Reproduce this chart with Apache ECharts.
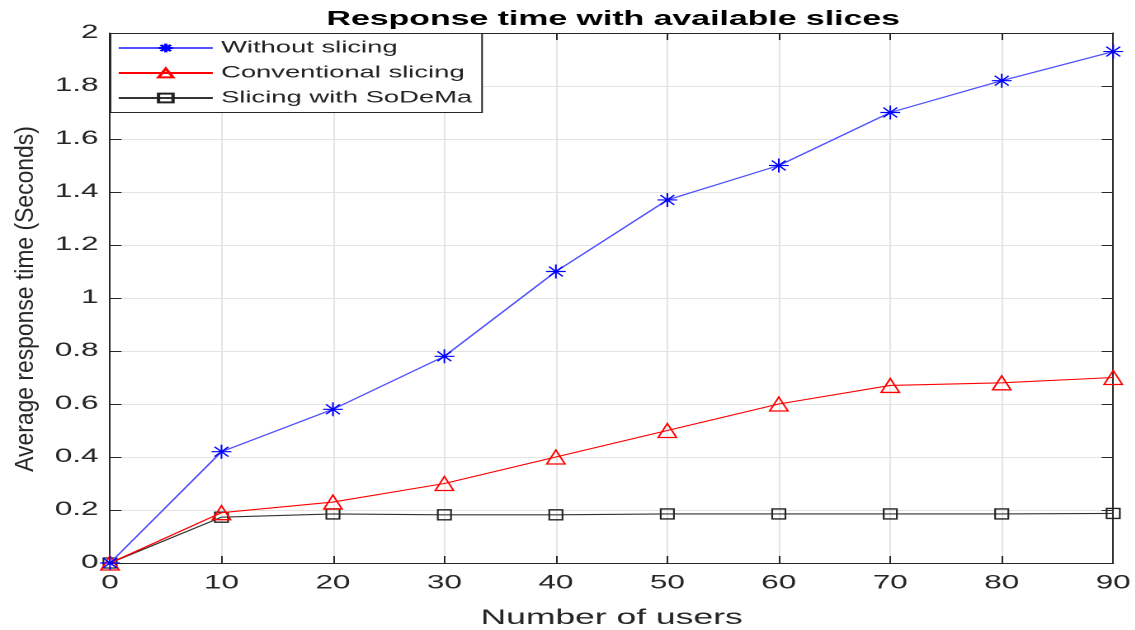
<!DOCTYPE html>
<html><head><meta charset="utf-8">
<script src="https://cdn.jsdelivr.net/npm/echarts@6/dist/echarts.min.js"></script>
<style>
html,body{margin:0;padding:0;background:#fff;overflow:hidden}
#wrap{width:1135px;height:630px;position:relative;overflow:hidden}
#c{width:688px;height:630px;transform:scaleX(1.65);transform-origin:0 0}
</style>
</head><body><div id="wrap"><div id="c"></div></div>
<script>
const users = [0, 10, 20, 30, 40, 50, 60, 70, 80, 90];
const withoutSlicing = [0, 0.42, 0.58, 0.78, 1.10, 1.37, 1.50, 1.70, 1.82, 1.93];
const conventionalSlicing = [0, 0.19, 0.23, 0.30, 0.40, 0.50, 0.60, 0.67, 0.68, 0.70];
const sodemaSlicing = [0, 0.173, 0.185, 0.182, 0.182, 0.185, 0.185, 0.185, 0.185, 0.187];
const seriesNames = ['Without slicing', 'Conventional slicing', 'Slicing with SoDeMa'];
const yTitle = 'Average response time (Seconds)';

const S = 1.65; // horizontal stretch of the original figure
const pair = (ys) => users.map((x, i) => [x, ys[i]]);
const star = 'path://M0,-10L0,10M-10,0L10,0M-7,-7L7,7M-7,7L7,-7';
const font = 'Liberation Sans, Arial, sans-serif';
const ink = '#262626';
const chart = echarts.init(document.getElementById('c'), null, {devicePixelRatio: 2});
const axisLine = {show: true, onZero: false, lineStyle: {color: ink, width: 1}};
const tick = {inside: true, length: 7, lineStyle: {color: ink}};
chart.setOption({
  animation: false,
  title: {text: 'Response time with available slices', left: 605 / S, textAlign: 'center', top: 4,
    textStyle: {fontFamily: font, fontWeight: 'bold', fontSize: 20.5, color: '#000'}},
  grid: {left: 110 / S, right: 22 / S, top: 33, bottom: 67, containLabel: false, outerBoundsMode: 'none'},
  legend: {
    orient: 'vertical', left: 110.5 / S, top: 33.5, itemWidth: 57, itemHeight: 11, itemGap: 8,
    padding: [6, 6, 6, 4], backgroundColor: '#fff', borderColor: ink, borderWidth: 1,
    textStyle: {fontFamily: font, fontSize: 16.6, color: '#222'},
    data: seriesNames
  },
  graphic: [{
    type: 'text', x: 26 / S, y: 299, rotation: Math.PI / 2, scaleY: 1.15 / S, z: 10,
    style: {text: yTitle, font: '22.9px ' + font, fill: ink, textAlign: 'center', textVerticalAlign: 'middle'}
  }],
  xAxis: [{
    type: 'value', min: 0, max: 90, interval: 10,
    name: 'Number of users', nameLocation: 'middle', nameGap: 44,
    nameTextStyle: {fontFamily: font, fontSize: 21.5, color: ink},
    axisLine: axisLine, axisTick: tick,
    axisLabel: {fontFamily: font, fontSize: 19, color: ink, margin: 11},
    splitLine: {show: true, lineStyle: {color: '#e4e4e4'}}
  }, {
    type: 'value', position: 'top', min: 0, max: 90, interval: 10,
    axisLine: axisLine, axisTick: tick,
    axisLabel: {show: false}, splitLine: {show: false}
  }],
  yAxis: [{
    type: 'value', min: 0, max: 2, interval: 0.2,
    axisLine: axisLine, axisTick: tick,
    axisLabel: {fontFamily: font, fontSize: 19, color: ink, margin: 7,
      formatter: v => String(Math.round(v * 10) / 10)},
    splitLine: {show: true, lineStyle: {color: '#e4e4e4'}}
  }, {
    type: 'value', position: 'right', min: 0, max: 2, interval: 0.2,
    axisLine: axisLine, axisTick: tick,
    axisLabel: {show: false}, splitLine: {show: false}
  }],
  series: [{
    name: seriesNames[0], type: 'line', data: pair(withoutSlicing),
    symbol: star, symbolSize: [12, 14], showAllSymbol: true,
    lineStyle: {color: '#5050ff', width: 1.2},
    itemStyle: {color: '#0000ff', borderColor: '#0000ff', borderWidth: 1.1}, z: 4
  }, {
    name: seriesNames[1], type: 'line', data: pair(conventionalSlicing),
    symbol: 'triangle', symbolSize: [11, 14], showAllSymbol: true,
    lineStyle: {color: '#ff0000', width: 1.1},
    itemStyle: {color: 'rgba(255,255,255,0)', borderColor: '#ff0000', borderWidth: 1.2}, z: 3
  }, {
    name: seriesNames[2], type: 'line', data: pair(sodemaSlicing),
    symbol: 'rect', symbolSize: [8, 10], showAllSymbol: true,
    lineStyle: {color: '#333333', width: 1.1},
    itemStyle: {color: 'rgba(255,255,255,0)', borderColor: '#222', borderWidth: 1.2}, z: 2
  }]
});
</script></body></html>
